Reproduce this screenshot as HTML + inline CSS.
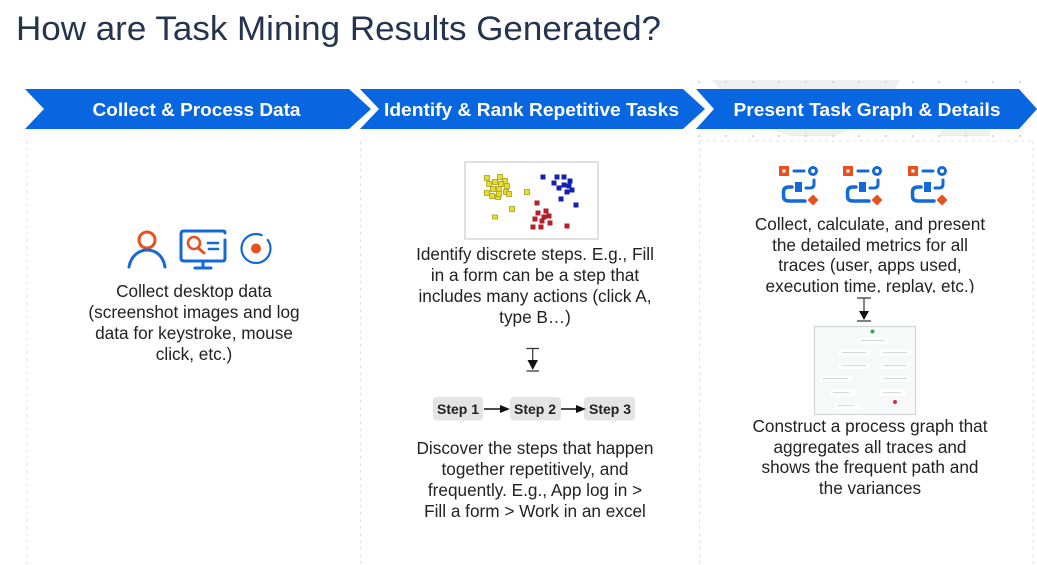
<!DOCTYPE html>
<html><head><meta charset="utf-8"><style>
html,body{margin:0;padding:0;background:#fff}
svg{display:block}
text{font-family:"Liberation Sans",Arial,sans-serif}
.b{font-size:17.2px;fill:#222;text-anchor:middle}
.h{font-size:18.5px;font-weight:bold;fill:#fff;text-anchor:middle}
.s{font-size:14px;font-weight:bold;fill:#222;text-anchor:middle}
</style></head><body>
<svg width="1037" height="565" viewBox="0 0 1037 565" xmlns="http://www.w3.org/2000/svg">
<defs>
<g id="flow">
<rect x="0" y="1" width="10" height="10" fill="#e8501e"/><rect x="3.500" y="4.500" width="3" height="3" fill="#fff"/>
<path d="M15 6H25" stroke="#1469d8" stroke-width="3" stroke-linecap="round"/>
<circle cx="34" cy="6" r="3.500" fill="none" stroke="#1469d8" stroke-width="3"/>
<path d="M13 22H10Q4.500 22 4.500 27V31Q4.500 36 10 36H26" fill="none" stroke="#1469d8" stroke-width="3.500" stroke-linecap="round"/>
<rect x="16" y="17" width="7" height="10" fill="#1469d8"/>
<path d="M35 15V19Q35 23 31 23H27" fill="none" stroke="#1469d8" stroke-width="3" stroke-linecap="round"/>
<path d="M34 29.500L39.500 35L34 40.500L28.500 35Z" fill="#e8501e"/>
</g>
</defs>
<rect width="1037" height="565" fill="#fff"/>
<text x="16" y="40" font-size="34" fill="#24344f" textLength="645" lengthAdjust="spacingAndGlyphs">How are Task Mining Results Generated?</text>

<!-- faint background -->
<path d="M712 80H900L895 89H720Z" fill="#efefef"/>
<path d="M770 129H850L835 136H790Z" fill="#efefef"/>
<path d="M938 136L943 129H990V136Z" fill="#efefef"/>
<g fill="#d8d8d8"><rect x="698" y="81" width="2" height="2"/><rect x="725" y="81" width="2" height="2"/><rect x="752" y="81" width="2" height="2"/><rect x="778" y="81" width="2" height="2"/><rect x="805" y="81" width="2" height="2"/><rect x="832" y="81" width="2" height="2"/><rect x="858" y="81" width="2" height="2"/><rect x="885" y="81" width="2" height="2"/><rect x="912" y="81" width="2" height="2"/><rect x="938" y="81" width="2" height="2"/><rect x="965" y="81" width="2" height="2"/><rect x="992" y="81" width="2" height="2"/><rect x="1019" y="81" width="2" height="2"/>
<rect x="698" y="135" width="2" height="2"/><rect x="725" y="135" width="2" height="2"/><rect x="752" y="135" width="2" height="2"/><rect x="778" y="135" width="2" height="2"/><rect x="805" y="135" width="2" height="2"/><rect x="832" y="135" width="2" height="2"/><rect x="858" y="135" width="2" height="2"/><rect x="885" y="135" width="2" height="2"/><rect x="912" y="135" width="2" height="2"/><rect x="938" y="135" width="2" height="2"/><rect x="965" y="135" width="2" height="2"/><rect x="992" y="135" width="2" height="2"/><rect x="1019" y="135" width="2" height="2"/></g>

<!-- chevrons -->
<g fill="#0866e0">
<path d="M25 89H349L371 109L349 129H25L44 109Z"/>
<path d="M360 89H683L705 109L683 129H360L379 109Z"/>
<path d="M696 89H1019L1037 109L1019 129H696L714 109Z"/>
</g>
<text class="h" x="196.500" y="116" textLength="208" lengthAdjust="spacingAndGlyphs">Collect &amp; Process Data</text>
<text class="h" x="531.500" y="116" textLength="295" lengthAdjust="spacingAndGlyphs">Identify &amp; Rank Repetitive Tasks</text>
<text class="h" x="867" y="116" textLength="267" lengthAdjust="spacingAndGlyphs">Present Task Graph &amp; Details</text>

<!-- dashed dividers -->
<g stroke="#e0e0e0" stroke-width="1" stroke-dasharray="3 4" fill="none">
<path d="M27 141V565"/><path d="M360.500 141V565"/><path d="M699.500 141V565"/><path d="M1033 141V565"/><path d="M699 141H1033"/>
</g>

<!-- column 1 icons -->
<circle cx="147" cy="240" r="8" fill="none" stroke="#e8501e" stroke-width="3"/>
<path d="M129 267C131 255 140 250 147 250C155 250 163 255 165 267" fill="none" stroke="#1469d8" stroke-width="3" stroke-linecap="round"/>
<path d="M225 233Q225 231 223 231H184Q181 231 181 234V258Q181 261 184 261H223Q225 261 225 258V240" fill="none" stroke="#1469d8" stroke-width="3" stroke-linecap="round"/>
<circle cx="194" cy="243" r="6" fill="none" stroke="#e8501e" stroke-width="2.600"/>
<path d="M198 248L204 253" stroke="#e8501e" stroke-width="2.800" stroke-linecap="round"/>
<path d="M208 243H218M209 249H218" stroke="#1469d8" stroke-width="2.600" stroke-linecap="round"/>
<path d="M203 261V267M195 268H211" stroke="#1469d8" stroke-width="3" stroke-linecap="round"/>
<circle cx="256" cy="248.500" r="14.500" fill="none" stroke="#1469d8" stroke-width="2.200" stroke-dasharray="85 6.100" transform="rotate(-40 256 248.500)"/>
<circle cx="256" cy="248.500" r="5" fill="#e8501e"/>

<text class="b" x="194" y="297">Collect desktop data</text>
<text class="b" x="194" y="318">(screenshot images and log</text>
<text class="b" x="194" y="339">data for keystroke, mouse</text>
<text class="b" x="194" y="360">click, etc.)</text>

<!-- scatter -->
<rect x="465" y="162" width="133" height="77" fill="#fff" stroke="#d6d6d6" stroke-width="1.500"/>
<g fill="#e6dc2a" stroke="#a8a020" stroke-width="0.800">
<rect x="484.500" y="175.500" width="5" height="5"/><rect x="497.500" y="174.500" width="5" height="5"/><rect x="502.500" y="178.500" width="5" height="5"/><rect x="486.500" y="181.500" width="5" height="5"/><rect x="492.500" y="179.500" width="5" height="5"/><rect x="498.500" y="181.500" width="5" height="5"/><rect x="504.500" y="183.500" width="5" height="5"/><rect x="490.500" y="186.500" width="5" height="5"/><rect x="496.500" y="186.500" width="5" height="5"/><rect x="484.500" y="190.500" width="5" height="5"/><rect x="489.500" y="193.500" width="5" height="5"/><rect x="495.500" y="194.500" width="5" height="5"/><rect x="496.500" y="191.500" width="5" height="5"/><rect x="503.500" y="189.500" width="5" height="5"/><rect x="506.500" y="191.500" width="5" height="5"/><rect x="524.500" y="189.500" width="5" height="5"/><rect x="509.500" y="206.500" width="5" height="5"/><rect x="492.500" y="215" width="5" height="4"/>
</g>
<g fill="#1420b4">
<rect x="540.500" y="174.500" width="5" height="5"/><rect x="554.500" y="174.500" width="5" height="5"/><rect x="561.500" y="174.500" width="5" height="5"/><rect x="567.500" y="178.500" width="5" height="5"/><rect x="551.500" y="180.500" width="5" height="5"/><rect x="561.500" y="182.500" width="5" height="5"/><rect x="566.500" y="183.500" width="5" height="5"/><rect x="556.500" y="185.500" width="5" height="5"/><rect x="569.500" y="187.500" width="5" height="5"/><rect x="564.500" y="189.500" width="5" height="5"/><rect x="558.500" y="196.500" width="5" height="5"/><rect x="573.500" y="202.500" width="5" height="5"/>
</g>
<g fill="#b52028">
<rect x="534.500" y="200.500" width="5" height="5"/><rect x="535.500" y="210.500" width="5" height="5"/><rect x="543.500" y="208.500" width="5" height="5"/><rect x="541.500" y="214.500" width="5" height="5"/><rect x="546.500" y="213.500" width="5" height="5"/><rect x="532.500" y="216.500" width="5" height="5"/><rect x="539.500" y="218.500" width="5" height="5"/><rect x="547.500" y="220.500" width="5" height="5"/><rect x="530.500" y="224.500" width="5" height="5"/><rect x="538.500" y="224.500" width="5" height="5"/><rect x="564.500" y="223.500" width="5" height="5"/>
</g>

<text class="b" x="535" y="260">Identify discrete steps. E.g., Fill</text>
<text class="b" x="535" y="281">in a form can be a step that</text>
<text class="b" x="535" y="302">includes many actions (click A,</text>
<text class="b" x="535" y="323">type B…)</text>

<!-- t-arrow 2 -->
<path d="M526.500 348.500H539M526.500 371H539M532.700 349V361" stroke="#333" stroke-width="1.200" fill="none"/>
<path d="M527.500 360H538L532.700 370Z" fill="#111"/>

<!-- steps -->
<g fill="#e4e4e4">
<rect x="433" y="397" width="50" height="23.500" rx="4"/>
<rect x="510" y="397" width="51" height="23.500" rx="4"/>
<rect x="584" y="397" width="51" height="23.500" rx="4"/>
</g>
<text class="s" x="458" y="414">Step 1</text>
<text class="s" x="535" y="414">Step 2</text>
<text class="s" x="610" y="414">Step 3</text>
<path d="M484 409H501M561 409H578" stroke="#111" stroke-width="1.500"/>
<path d="M500 405L510 409L500 413Z M576 405L586 409L576 413Z" fill="#111"/>

<text class="b" x="535" y="454">Discover the steps that happen</text>
<text class="b" x="535" y="475">together repetitively, and</text>
<text class="b" x="535" y="496">frequently. E.g., App log in &gt;</text>
<text class="b" x="535" y="517">Fill a form &gt; Work in an excel</text>

<!-- col 3 icons -->
<use href="#flow" x="779" y="165"/>
<use href="#flow" x="843" y="165"/>
<use href="#flow" x="908" y="165"/>

<text class="b" x="870" y="230">Collect, calculate, and present</text>
<text class="b" x="870" y="251">the detailed metrics for all</text>
<text class="b" x="870" y="271">traces (user, apps used,</text>
<text class="b" x="870" y="292">execution time, replay, etc.)</text>
<rect x="750" y="293" width="240" height="8" fill="#fff"/>

<!-- t-arrow 3 -->
<path d="M857 298H871M857 321H871M864 298V311" stroke="#333" stroke-width="1.200" fill="none"/>
<path d="M859 311H869L864 320Z" fill="#111"/>

<!-- process graph -->
<rect x="814.500" y="326.500" width="101" height="88" fill="#f7f8f8" stroke="#d4d6d6" stroke-width="1.200"/>
<circle cx="872.500" cy="331.500" r="2" fill="#3aa655"/>
<g fill="#fff"><rect x="858" y="338" width="30" height="6"/><rect x="838" y="350" width="32" height="6"/><rect x="880" y="350" width="30" height="6"/><rect x="838" y="363" width="32" height="6"/><rect x="880" y="363" width="30" height="6"/><rect x="820" y="376" width="32" height="6"/><rect x="880" y="376" width="30" height="6"/><rect x="830" y="390" width="26" height="6"/><rect x="880" y="390" width="26" height="6"/><rect x="835" y="403" width="26" height="6"/></g>
<g fill="#d5d7d9"><rect x="861" y="340" width="24" height="1"/><rect x="842" y="352" width="24" height="1"/><rect x="883" y="352" width="24" height="1"/><rect x="842" y="365" width="24" height="1"/><rect x="883" y="365" width="24" height="1"/><rect x="822" y="378" width="26" height="1"/><rect x="883" y="378" width="24" height="1"/><rect x="833" y="392" width="16" height="1"/><rect x="883" y="392" width="18" height="1"/><rect x="838" y="405" width="16" height="1"/></g>
<circle cx="895" cy="402" r="2" fill="#c8324a"/>

<text class="b" x="870" y="432">Construct a process graph that</text>
<text class="b" x="870" y="453">aggregates all traces and</text>
<text class="b" x="870" y="473">shows the frequent path and</text>
<text class="b" x="870" y="494">the variances</text>
</svg>
</body></html>
